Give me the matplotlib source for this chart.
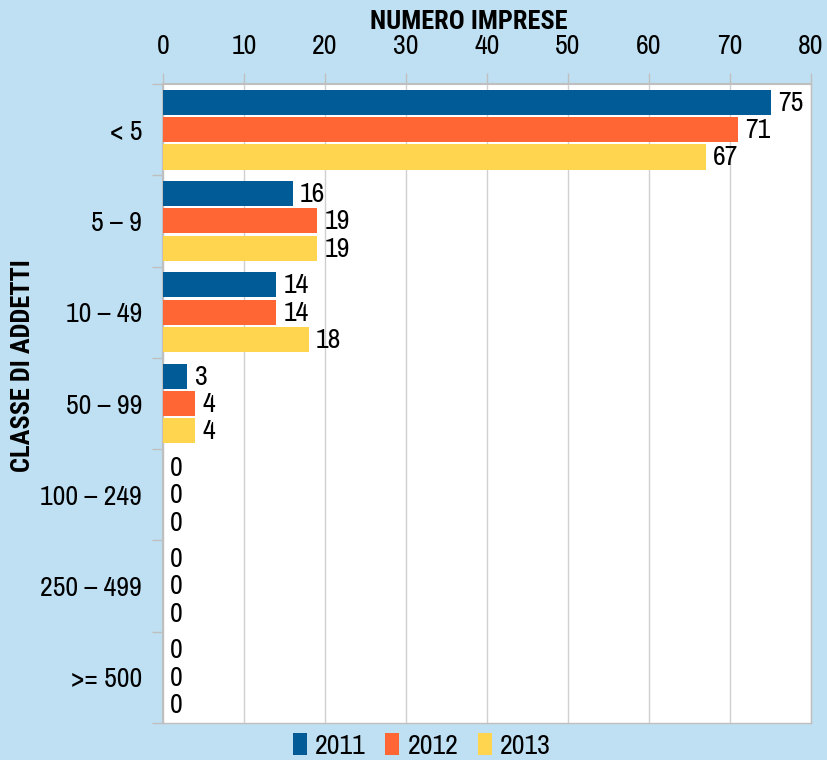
import matplotlib
matplotlib.use("Agg")
import matplotlib.pyplot as plt
import numpy as np
from matplotlib.patches import Patch

categories = ["< 5", "5 – 9", "10 – 49", "50 – 99", "100 – 249", "250 – 499", ">= 500"]
years = ["2011", "2012", "2013"]
v2011 = [75, 16, 14, 3, 0, 0, 0]
v2012 = [71, 19, 14, 4, 0, 0, 0]
v2013 = [67, 19, 18, 4, 0, 0, 0]
series = [v2011, v2012, v2013]
colors = ["#005B96", "#FF6633", "#FFD54F"]
xticks = [0, 10, 20, 30, 40, 50, 60, 70, 80]

BG = "#BEE0F2"
FONT = ["Archivo Narrow", "PT Sans Narrow", "DejaVu Sans"]
BOLD = ["Roboto Condensed", "PT Sans Narrow", "DejaVu Sans"]
plt.rcParams['font.family'] = FONT

fig = plt.figure(figsize=(8.28, 7.6), dpi=100, facecolor=BG)
ax = fig.add_axes([163/828, 1-723/760, (811-163)/828, (723-84)/760])
ax.set_facecolor("white")

n = len(categories)
h = 0.275
offs = [-0.3, 0.0, 0.3]
y = np.arange(n)
for s, c, o in zip(series, colors, offs):
    ax.barh(y + o, s, height=h, color=c, zorder=3)
    for yi, v in zip(y, s):
        ax.text(v + 0.9, yi + o + 0.01, str(v), va="center", ha="left", fontsize=20, zorder=4)

ax.set_ylim(n - 0.5, -0.5)
ax.set_xlim(0, 80)
ax.xaxis.tick_top()
ax.set_xticks(xticks)
ax.set_xticklabels([str(t) for t in xticks], fontsize=20)
ax.tick_params(axis="x", length=8, color="#BFBFBF", pad=10, width=1)
ax.set_yticks(np.arange(n + 1) - 0.5, minor=False)
ax.set_yticklabels([])
ax.tick_params(axis="y", length=8, color="#BFBFBF", width=1)
ax.set_yticks(y, minor=True)
ax.set_yticklabels(categories, minor=True, fontsize=20)
ax.tick_params(axis="y", which="minor", length=0, pad=15)
ax.grid(axis="x", color="#D0D0D0", linewidth=1, zorder=0)
for side in ["right", "bottom"]:
    ax.spines[side].set_color("#BFBFBF")
    ax.spines[side].set_linewidth(1)
ax.spines["left"].set_color("#BFBFBF")
ax.spines["top"].set_color("#BFBFBF")
ax.spines["left"].set_linewidth(1.5)
ax.spines["top"].set_linewidth(1.5)

fig.text(469/828, 1-22/760, "NUMERO IMPRESE", ha="center", va="center", fontsize=19,
         fontweight="bold", family=BOLD)
fig.text(23/828, 1-366/760, "CLASSE DI ADDETTI", ha="center", va="center", rotation=90, fontsize=19,
         fontweight="bold", family=BOLD)

handles = [Patch(facecolor=c, label=l) for c, l in zip(colors, years)]
fig.legend(handles=handles, loc="center", bbox_to_anchor=(422/828, 1-746/760), ncol=3, frameon=False,
           fontsize=20, handlelength=0.5, handleheight=0.8, handletextpad=0.3, columnspacing=0.7)

fig.savefig("out.png", dpi=100, facecolor=BG)
